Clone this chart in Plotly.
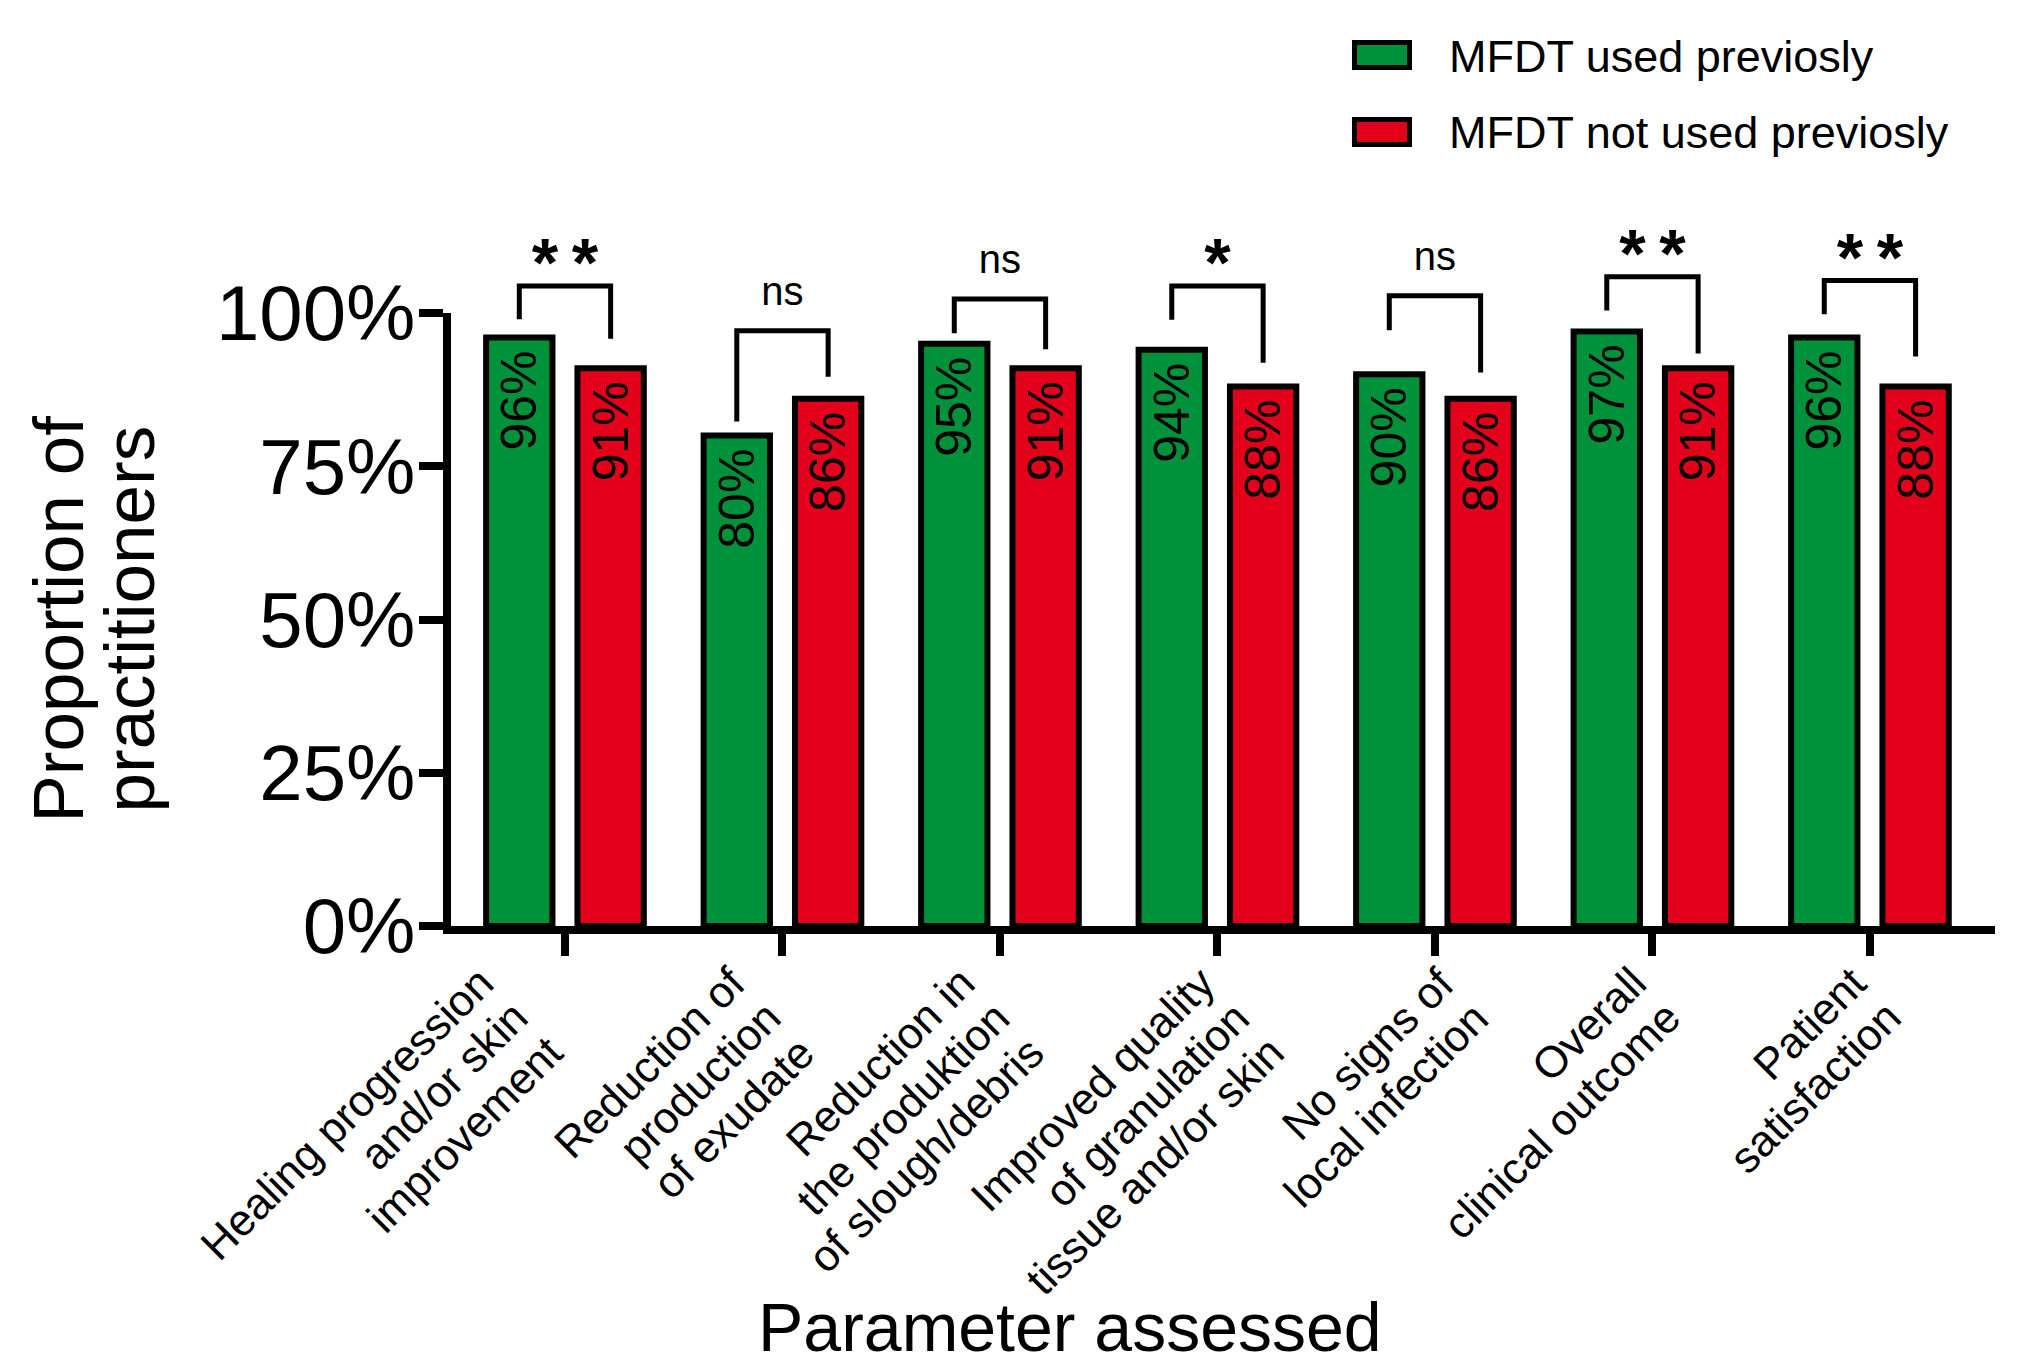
import plotly.graph_objects as go

# ------------------------------------------------------------------ data
category_lines = [
    ["Healing progression", "and/or skin", "improvement"],
    ["Reduction of", "production", "of exudate"],
    ["Reduction in", "the produktion", "of slough/debris"],
    ["Improved quality", "of granulation", "tissue and/or skin"],
    ["No signs of", "local infection"],
    ["Overall", "clinical outcome"],
    ["Patient", "satisfaction"],
]
used_previously = [96, 80, 95, 94, 90, 97, 96]
not_used_previously = [91, 86, 91, 88, 86, 91, 88]
significance = ["**", "ns", "ns", "*", "ns", "**", "**"]
bracket_top = [104.4, 97.1, 102.3, 104.4, 102.8, 105.9, 105.3]
bracket_left_end = [99.0, 82.3, 96.7, 98.9, 97.2, 100.4, 99.8]
bracket_right_end = [95.8, 89.6, 94.1, 91.9, 90.3, 93.4, 92.9]
y_tick_values = [0, 25, 50, 75, 100]
series_names = ["MFDT used previosly", "MFDT not used previosly"]
x_title = "Parameter assessed"
y_title_lines = ["Proportion of", "practitioners"]

# ------------------------------------------------------------------ style
W, H = 2017, 1368
L, R, T, B = 451, 22, 190, 442
PW, PH = W - L - R, H - T - B
Y_TOP_PX = 313                      # pixel row of the 100% tick
DOMAIN_TOP = (H - B - Y_TOP_PX) / PH  # fraction of plot height used by the main axis
GREEN = "#00923A"
RED = "#E2001A"
FONT = "Liberation Sans, Arial, Helvetica, sans-serif"
BAR_W = 0.305
BAR_SHIFT = 0.21
X_RANGE = [-0.524, 6.575]
STAR_LIFT = 2.7
NS_LIFT = 5.9
TICK_FS = 44
LABEL_DX = [-72, -37, -25, -3, 19, -7, -4]   # first-line end relative to tick (px)
LABEL_Y0 = 970
LINE_STEP = 34.5
ANCH_DX, ANCH_DY = 12, -14.85


def pxx(px):
    return (px - L) / PW


def pxy(py):
    return (H - B - py) / PH


x_idx = list(range(len(category_lines)))

fig = go.Figure()

for vals, color, off, name in [
    (used_previously, GREEN, -BAR_SHIFT - BAR_W / 2, series_names[0]),
    (not_used_previously, RED, BAR_SHIFT - BAR_W / 2, series_names[1]),
]:
    fig.add_trace(go.Bar(
        x=x_idx, y=vals, width=BAR_W, offset=off, name=name,
        marker=dict(color=color, line=dict(color="black", width=6)),
        text=[f"{v}%\u2009" for v in vals], textposition="inside",
        insidetextanchor="end", textangle=-90, constraintext="none",
        textfont=dict(family=FONT, size=50, color="black"),
        showlegend=False, hoverinfo="skip",
    ))

# significance brackets (on an invisible twin axis with the same scale)
bx, by = [], []
for i in x_idx:
    xl, xr = i - BAR_SHIFT, i + BAR_SHIFT
    bx += [xl, xl, xr, xr, None]
    by += [bracket_left_end[i], bracket_top[i], bracket_top[i], bracket_right_end[i], None]
fig.add_trace(go.Scatter(x=bx, y=by, yaxis="y2", mode="lines",
                         line=dict(color="black", width=5),
                         showlegend=False, hoverinfo="skip"))

star_i = [i for i, s in enumerate(significance) if s != "ns"]
ns_i = [i for i, s in enumerate(significance) if s == "ns"]
fig.add_trace(go.Scatter(
    x=star_i, y=[bracket_top[i] + STAR_LIFT for i in star_i], yaxis="y2", mode="text",
    text=["\u2009".join(significance[i]) for i in star_i], textposition="middle center",
    textfont=dict(family=FONT, size=68, color="black", weight="bold"),
    showlegend=False, hoverinfo="skip"))
fig.add_trace(go.Scatter(
    x=ns_i, y=[bracket_top[i] + NS_LIFT for i in ns_i], yaxis="y2", mode="text",
    text=[significance[i] for i in ns_i], textposition="middle center",
    textfont=dict(family=FONT, size=40, color="black"),
    showlegend=False, hoverinfo="skip"))

annotations = []
# x tick labels (rotated, right-aligned lines)
for i, lines in enumerate(category_lines):
    for k, line in enumerate(lines):
        annotations.append(dict(
            x=i, xref="x", y=0, yref="paper", text=line, showarrow=False,
            textangle=-45, xanchor="right", yanchor="top",
            xshift=LABEL_DX[i] + ANCH_DX + LINE_STEP * k,
            yshift=-((LABEL_Y0 + LINE_STEP * k + ANCH_DY) - (H - B)),
            font=dict(family=FONT, size=TICK_FS, color="black")))

# axis titles
annotations.append(dict(x=pxx(1070), y=pxy(1327), xref="paper", yref="paper", text=x_title,
                        showarrow=False, xanchor="center", yanchor="middle",
                        font=dict(family=FONT, size=68, color="black")))
for xc, line in zip([58, 129], y_title_lines):
    annotations.append(dict(x=pxx(xc), y=pxy(619.5), xref="paper", yref="paper", text=line,
                            showarrow=False, textangle=-90, xanchor="center", yanchor="middle",
                            font=dict(family=FONT, size=71, color="black")))

# legend
shapes = []
for (ytop, ybot), color, name, ty in [((42.5, 67.5), GREEN, series_names[0], 56.4),
                                      ((119.5, 144.5), RED, series_names[1], 132.4)]:
    shapes.append(dict(type="rect", xref="paper", yref="paper",
                       x0=pxx(1354.5), x1=pxx(1409.5), y0=pxy(ybot), y1=pxy(ytop),
                       fillcolor=color, line=dict(color="black", width=5)))
    annotations.append(dict(x=pxx(1447), y=pxy(ty), xref="paper", yref="paper", text=name,
                            showarrow=False, xanchor="left", yanchor="middle",
                            font=dict(family=FONT, size=45, color="black")))

fig.update_layout(
    width=W, height=H, autosize=False,
    margin=dict(l=L, r=R, t=T, b=B, pad=0),
    paper_bgcolor="white", plot_bgcolor="rgba(0,0,0,0)",
    barmode="overlay", showlegend=False,
    font=dict(family=FONT, color="black"),
    xaxis=dict(range=X_RANGE, tickvals=x_idx, showticklabels=False, ticks="outside",
               ticklen=22, tickwidth=8, tickcolor="black", showline=True, linewidth=8,
               linecolor="black", showgrid=False, zeroline=False, fixedrange=True),
    yaxis=dict(range=[0, 100], domain=[0, DOMAIN_TOP], tickvals=y_tick_values,
               ticktext=[f"{v}%" for v in y_tick_values], ticks="outside", ticklen=24,
               tickwidth=8, tickcolor="black", showline=True, linewidth=8, linecolor="black",
               showgrid=False, zeroline=False, ticklabelstandoff=-12, fixedrange=True,
               tickfont=dict(family=FONT, size=78, color="black")),
    yaxis2=dict(range=[0, 100 / DOMAIN_TOP], domain=[0, 1], anchor="x", visible=False,
                fixedrange=True),
    annotations=annotations, shapes=shapes,
)

fig.write_html("out.html", config={"displayModeBar": False},
               post_script="document.body.style.margin='0px';")
